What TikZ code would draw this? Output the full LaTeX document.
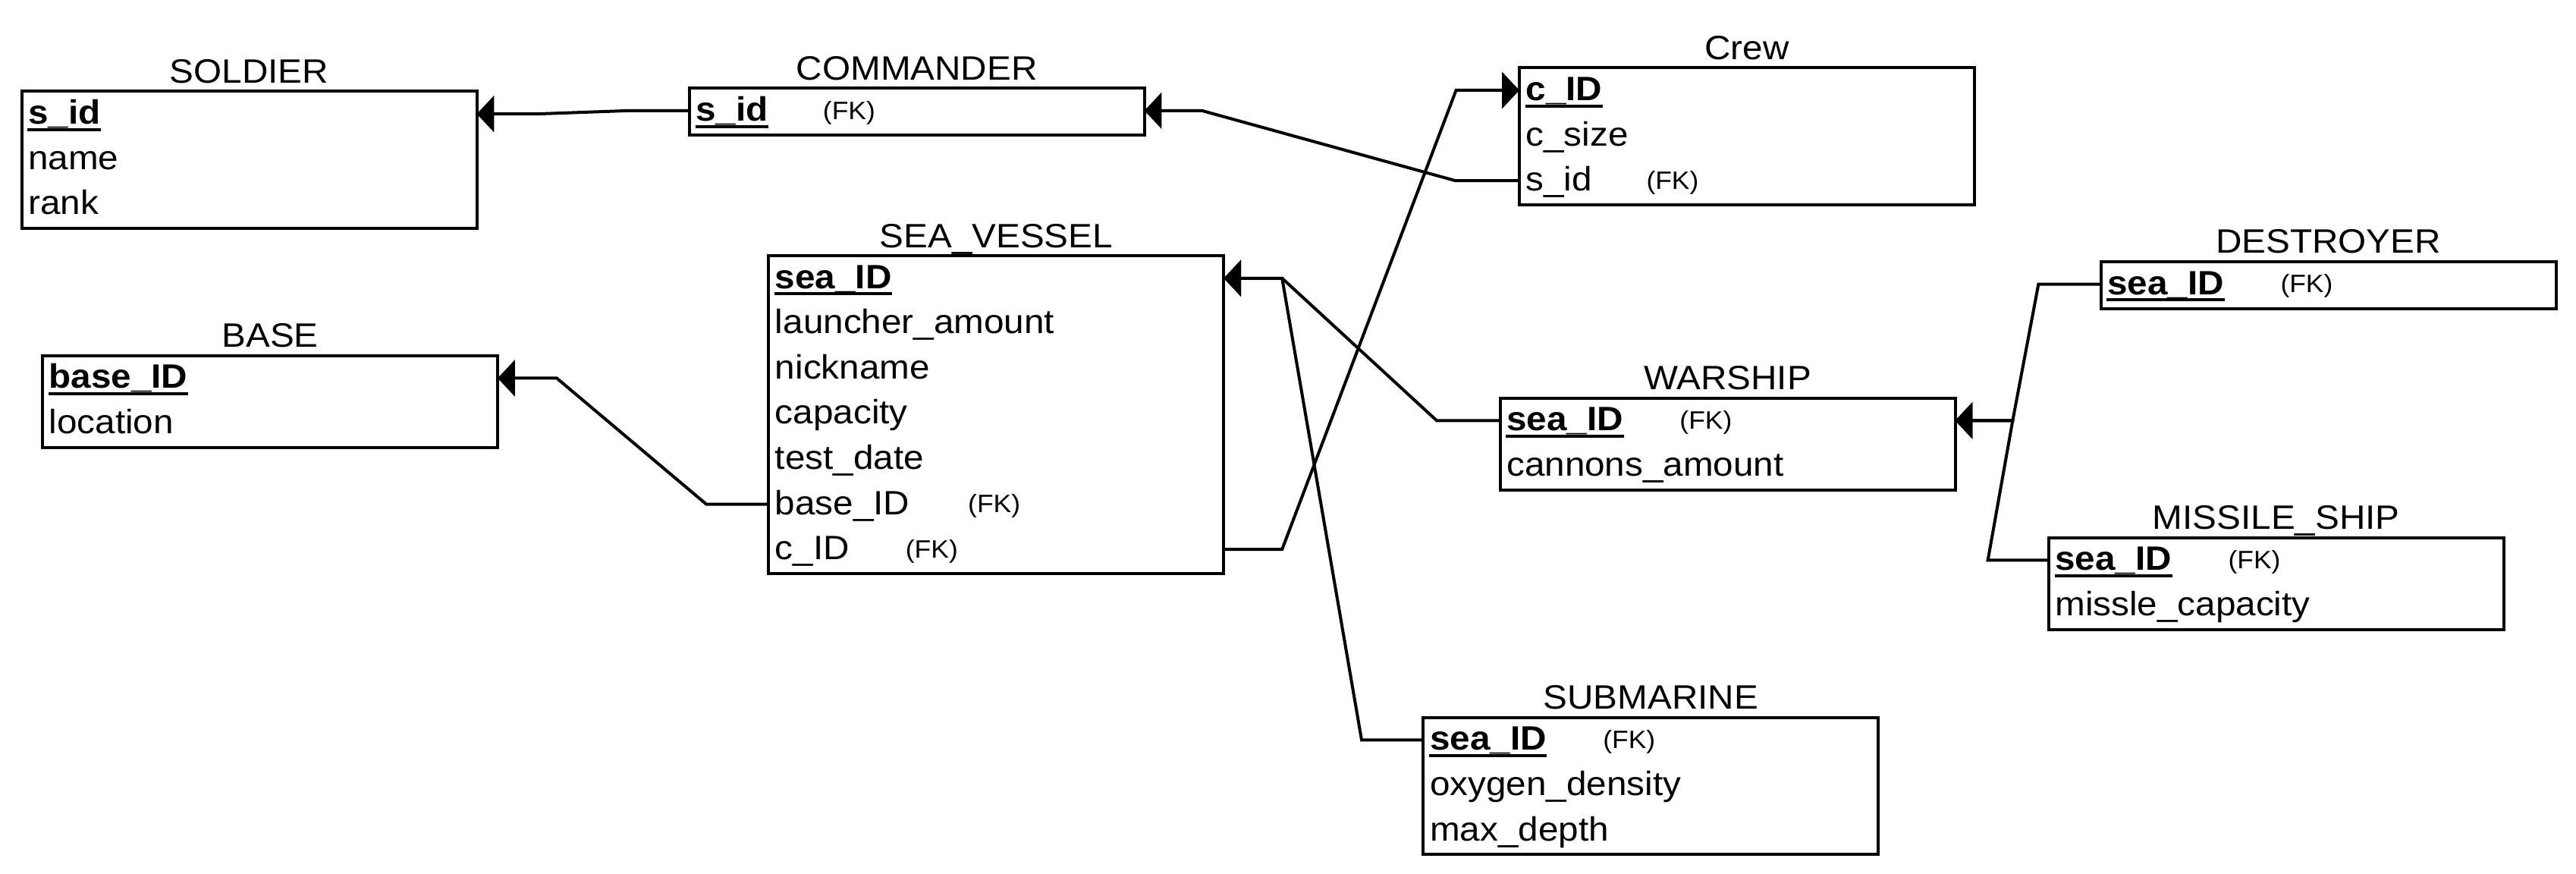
\documentclass[tikz,border=0pt]{standalone}
\usepackage{fontspec}
\setmainfont{Liberation Sans}[FakeStretch=1.07]
\usetikzlibrary{positioning, arrows.meta, calc}

\newcommand\attrfont{\fontsize{11.7}{14}\selectfont}
\newcommand\fkfont{\fontsize{8.7}{10}\selectfont}
\def\rowh{27.5}

\tikzset{
    entity/.style={draw, line width=0.37mm, rectangle, inner sep=0, outer sep=0,
        minimum width=277*0.2mm, anchor=north west},
    etitle/.style={inner sep=0, anchor=base, font=\attrfont},
    attr/.style={inner sep=0, anchor=base west, font=\attrfont},
    keyattr/.style={attr, font=\attrfont\bfseries},
    keyline/.style={line width=0.37mm},
    fklabel/.style={inner sep=0, anchor=base west, font=\fkfont},
    rel/.style={line width=0.37mm, -{Triangle[length=2.1mm, width=4.4mm]}}
}

% table: name, x, y, number of rows, title, fields (text/FK offset)
\newcommand\ertable[6]{%
    \node[entity, minimum height={(1+\rowh*#4)*0.2mm}] (#1) at (#2,#3) {};
    \node[etitle] at ($(#1.north)+(0,-5)$) {#5};
    \foreach \txt/\fk [count=\i from 0] in {#6}
    {
        \coordinate (#1-\i-w) at ($(#1.north west)+(0,13.75+\rowh*\i)$);
        \coordinate (#1-\i-e) at ($(#1.north east)+(0,13.75+\rowh*\i)$);
        \ifnum\i=0
            \node[keyattr] (#1-\i) at ($(#1.north west)+(3.6,20)$) {\txt};
            \draw[keyline] ([yshift=-0.66mm]#1-\i.base west) -- ([yshift=-0.66mm]#1-\i.base east);
        \else
            \node[attr] (#1-\i) at ($(#1.north west)+(3.6,20+\rowh*\i)$) {\txt};
        \fi
        \ifnum\fk>0
            \node[fklabel] at ($(#1.north west)+(\fk,19+\rowh*\i)$) {(FK)};
        \fi
    }
}

\begin{document}
\begin{tikzpicture}[x=0.2mm, y=-0.2mm]
    \useasboundingbox (0,0) rectangle (1568,531.9);

    % tables
    \ertable{soldier}{13.2}{55.6}{3}{SOLDIER}{s\_id/0, name/0, rank/0}
    \ertable{commander}{419.6}{53.6}{1}{COMMANDER}{s\_id/81}
    \ertable{crew}{924.8}{41.2}{3}{Crew}{c\_ID/0, c\_size/0, s\_id/77}
    \ertable{vessel}{467.9}{155.6}{7}{SEA\_VESSEL}{sea\_ID/0, launcher\_amount/0, nickname/0, capacity/0, test\_date/0, base\_ID/121, c\_ID/83}
    \ertable{base}{25.9}{216.4}{2}{BASE}{base\_ID/0, location/0}
    \ertable{warship}{913.1}{242.2}{2}{WARSHIP}{sea\_ID/109, cannons\_amount/0}
    \ertable{destroyer}{1278.8}{159.2}{1}{DESTROYER}{sea\_ID/109}
    \ertable{missile}{1247}{327.2}{2}{MISSILE\_SHIP}{sea\_ID/109, missle\_capacity/0}
    \ertable{submarine}{866.4}{436.6}{3}{SUBMARINE}{sea\_ID/109, oxygen\_density/0, max\_depth/0}

    % foreign keys
    \draw[rel] (commander-0-w) -- ++(-37,0) -- ($(soldier-0-e)+(36.5,0)$) -- (soldier-0-e);
    \draw[rel] (crew-2-w) -- ++(-39,0) -- ($(commander-0-e)+(35,0)$) -- (commander-0-e);
    \draw[rel] (vessel-6-e) -- ++(35.5,0) -- ($(crew-0-w)+(-38.5,0)$) -- (crew-0-w);
    \draw[rel] (vessel-5-w) -- ++(-38,0) -- ($(base-0-e)+(36,0)$) -- (base-0-e);
    \draw[rel] (warship-0-w) -- ++(-38.6,0) -- ($(vessel-0-e)+(35.5,0)$) -- (vessel-0-e);
    \draw[rel] (submarine-0-w) -- ++(-37.6,0) -- ($(vessel-0-e)+(35.5,0)$) -- (vessel-0-e);
    \draw[rel] (destroyer-0-w) -- ++(-38,0) -- ($(warship-0-e)+(35,0)$) -- (warship-0-e);
    \draw[rel] (missile-0-w) -- ++(-37,0) -- ($(warship-0-e)+(35,0)$) -- (warship-0-e);
\end{tikzpicture}
\end{document}
